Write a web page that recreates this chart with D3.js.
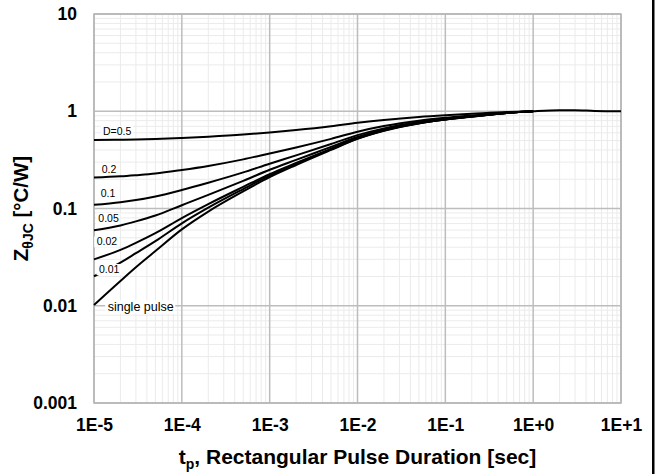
<!DOCTYPE html>
<html><head><meta charset="utf-8">
<script src="https://cdn.jsdelivr.net/npm/d3@7"></script>
<style>
body{margin:0;background:#fff}
svg{display:block}
text{font-family:"Liberation Sans",Arial,Helvetica,sans-serif}
</style>
</head><body>
<svg id="chart" width="659" height="474"></svg>
<script>
// ---- data ----
const timesSec = [1e-5, 2e-5, 3e-5, 5e-5, 1e-4, 2e-4, 5e-4, 1e-3, 2e-3, 5e-3, 1e-2, 2e-2, 5e-2, 1e-1, 2e-1, 5e-1, 1, 2, 3, 5, 10];
const zSingle = [0.0102, 0.018, 0.0249, 0.0365, 0.061, 0.093, 0.15, 0.21, 0.28, 0.40, 0.52, 0.63, 0.75, 0.82, 0.88, 0.96, 1.0, 1.025, 1.025, 1.008, 1.0];
const zD050 = [0.505, 0.509, 0.5125, 0.518, 0.5305, 0.547, 0.575, 0.605, 0.64, 0.70, 0.76, 0.815, 0.875, 0.91, 0.94, 0.98, 1.0];
const zD020 = [0.208, 0.214, 0.220, 0.229, 0.249, 0.274, 0.32, 0.368, 0.424, 0.52, 0.616, 0.704, 0.80, 0.856, 0.904, 0.968, 1.0];
const zD010 = [0.109, 0.116, 0.122, 0.133, 0.155, 0.184, 0.235, 0.289, 0.352, 0.46, 0.568, 0.667, 0.775, 0.838, 0.892, 0.964, 1.0];
const zD005 = [0.0597, 0.067, 0.0737, 0.0847, 0.108, 0.138, 0.1925, 0.25, 0.316, 0.43, 0.544, 0.649, 0.763, 0.829, 0.886, 0.962, 1.0];
const zD002 = [0.030, 0.0376, 0.0444, 0.0558, 0.0798, 0.111, 0.167, 0.226, 0.294, 0.412, 0.530, 0.637, 0.755, 0.824, 0.882, 0.961, 1.0];
const zD001 = [0.0201, 0.0278, 0.0347, 0.0461, 0.0704, 0.102, 0.1585, 0.218, 0.287, 0.406, 0.525, 0.634, 0.753, 0.822, 0.881, 0.960, 1.0];
const seriesNames = ["D=0.5", "0.2", "0.1", "0.05", "0.02", "0.01", "single pulse"];
const xTickValues = [1e-5, 1e-4, 1e-3, 1e-2, 1e-1, 1, 10];
const xTickLabels = ["1E-5", "1E-4", "1E-3", "1E-2", "1E-1", "1E+0", "1E+1"];
const yTickValues = [0.001, 0.01, 0.1, 1, 10];
const yTickLabels = ["0.001", "0.01", "0.1", "1", "10"];

// ---- layout ----
const svg = d3.select("#chart");
const L = 94, R = 621, T = 14, B = 403;
const x = d3.scaleLog().domain([1e-5, 10]).range([L, R]);
const y = d3.scaleLog().domain([0.001, 10]).range([B, T]);

// minor grid
const minorX = [], minorY = [];
for (let d = -5; d < 1; d++) for (let m = 2; m <= 9; m++) minorX.push(m * Math.pow(10, d));
for (let d = -3; d < 1; d++) for (let m = 2; m <= 9; m++) minorY.push(m * Math.pow(10, d));
const g = svg.append("g");
g.selectAll(".mx").data(minorX).join("line")
  .attr("x1", d => x(d)).attr("x2", d => x(d)).attr("y1", T).attr("y2", B)
  .attr("stroke", "#ebebeb").attr("stroke-width", 1);
g.selectAll(".my").data(minorY).join("line")
  .attr("x1", L).attr("x2", R).attr("y1", d => y(d)).attr("y2", d => y(d))
  .attr("stroke", "#ebebeb").attr("stroke-width", 1);
// major grid
g.selectAll(".Mx").data(xTickValues).join("line")
  .attr("x1", d => x(d)).attr("x2", d => x(d)).attr("y1", T).attr("y2", B)
  .attr("stroke", "#bdbdbd").attr("stroke-width", 1.5);
g.selectAll(".My").data(yTickValues).join("line")
  .attr("x1", L).attr("x2", R).attr("y1", d => y(d)).attr("y2", d => y(d))
  .attr("stroke", "#bdbdbd").attr("stroke-width", 1.5);
g.append("rect").attr("x", L).attr("y", T).attr("width", R - L).attr("height", B - T)
  .attr("fill", "none").attr("stroke", "#b5b5b5").attr("stroke-width", 1.5);

// axes
const xAxis = d3.axisBottom(x).tickValues(xTickValues)
  .tickFormat((d, i) => xTickLabels[i]).tickSize(0).tickPadding(16);
const yAxis = d3.axisLeft(y).tickValues(yTickValues)
  .tickFormat((d, i) => yTickLabels[i]).tickSize(0).tickPadding(17);
const gx = svg.append("g").attr("transform", `translate(0,${B})`).call(xAxis);
const gy = svg.append("g").attr("transform", `translate(${L},0)`).call(yAxis);
[gx, gy].forEach(a => {
  a.select(".domain").remove();
  a.selectAll("text").attr("font-size", 17.5).attr("font-weight", "bold")
    .attr("fill", "#000").attr("font-family", '"Liberation Sans",Arial,sans-serif');
});

// curves
const line = d3.line().x(d => x(d[0])).y(d => y(d[1])).curve(d3.curveMonotoneX);
const allSeries = [zD050, zD020, zD010, zD005, zD002, zD001, zSingle];
svg.append("g").selectAll("path").data(allSeries).join("path")
  .attr("d", s => line(s.map((v, i) => [timesSec[i], v])))
  .attr("fill", "none").attr("stroke", "#000").attr("stroke-width", 2);

// curve labels (anchor: x offset from left edge in px, y in data units)
const labelAnchor = [
  {dx: 9, v: 0.570, fs: 10.5}, {dx: 7.7, v: 0.2344, fs: 10.5}, {dx: 6.7, v: 0.1313, fs: 10.5},
  {dx: 4.3, v: 0.0726, fs: 10.5}, {dx: 2.7, v: 0.0417, fs: 10.5}, {dx: 5, v: 0.0217, fs: 10.5},
  {dx: 13.7, v: 0.00893, fs: 12.5}
];
const lg = svg.append("g");
seriesNames.forEach((name, i) => {
  const a = labelAnchor[i];
  const t = lg.append("text").attr("x", L + a.dx).attr("y", y(a.v))
    .attr("font-size", a.fs).attr("fill", "#000").text(name);
  const bb = t.node().getBBox();
  lg.insert("rect", "text").attr("x", bb.x - 2.5).attr("y", bb.y + 1)
    .attr("width", bb.width + 4).attr("height", bb.height - 1).attr("fill", "#fff");
});

// axis titles
const xt = svg.append("text").attr("x", (L + R) / 2).attr("y", 464)
  .attr("text-anchor", "middle").attr("font-size", 21).attr("font-weight", "bold");
xt.append("tspan").text("t");
xt.append("tspan").attr("font-size", 14).attr("dy", 5).text("p");
xt.append("tspan").attr("dy", -5).text(", Rectangular Pulse Duration [sec]");

const yt = svg.append("text").attr("transform", `translate(28,${(T + B) / 2}) rotate(-90)`)
  .attr("text-anchor", "middle").attr("font-size", 20.5).attr("font-weight", "bold");
yt.append("tspan").text("Z");
yt.append("tspan").attr("font-size", 14).attr("dy", 5).text("θJC");
yt.append("tspan").attr("dy", -5).text(" [°C/W]");

// right edge frame line
svg.append("rect").attr("x", 652).attr("y", 0).attr("width", 2.5).attr("height", 474).attr("fill", "#000");
</script>
</body></html>
